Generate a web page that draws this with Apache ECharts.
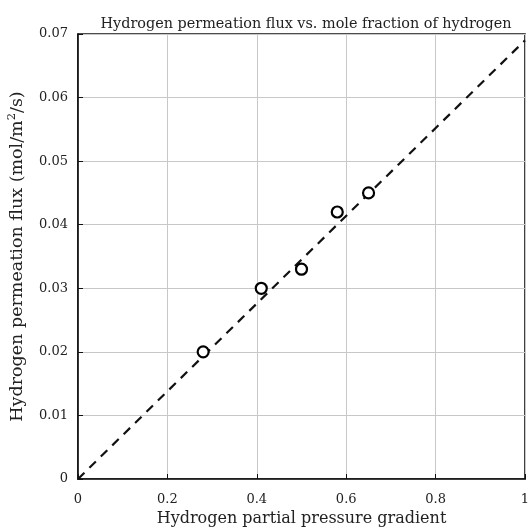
<!DOCTYPE html>
<html><head><meta charset="utf-8">
<script src="https://cdn.jsdelivr.net/npm/echarts@6/dist/echarts.min.js"></script>
<style>html,body{margin:0;padding:0;background:#fff}#c{width:528px;height:528px}</style>
</head><body><div id="c"></div>
<script>
const titleText = 'Hydrogen permeation flux vs. mole fraction of hydrogen';
const xName = 'Hydrogen partial pressure gradient';
const yName = 'Hydrogen permeation flux (mol/m{sup|2}/s)';
const pointX = [0.28, 0.41, 0.50, 0.58, 0.65];
const pointY = [0.020, 0.030, 0.033, 0.042, 0.045];
const fitX = [0, 1];
const fitY = [0, 0.069];
const xTicks = [0, 0.2, 0.4, 0.6, 0.8, 1];
const yTicks = [0, 0.01, 0.02, 0.03, 0.04, 0.05, 0.06, 0.07];

const font = 'DejaVu Serif';
const chart = echarts.init(document.getElementById('c'), null, {renderer: 'canvas'});
const fmtX = v => { const m = xTicks.find(t => Math.abs(t - v) < 1e-9); return m === undefined ? '' : String(m); };
const fmtY = v => { const m = yTicks.find(t => Math.abs(t - v) < 1e-9); return m === undefined ? '' : String(m); };
chart.setOption({
  animation: false,
  backgroundColor: '#fff',
  title: {
    text: titleText, left: 301, top: 12, textAlign: 'center',
    textStyle: {fontFamily: font, fontWeight: 'normal', fontSize: 14.4, color: '#222'}
  },
  grid: {left: 78, right: 3, top: 34, bottom: 49, show: true, borderColor: '#111', borderWidth: 1.6,
         backgroundColor: 'transparent', outerBoundsMode: 'none', containLabel: false},
  xAxis: {
    type: 'value', min: 0, max: 1, interval: 0.2,
    name: xName, nameLocation: 'middle', nameGap: 32,
    nameTextStyle: {fontFamily: font, fontSize: 16, color: '#222'},
    axisLine: {show: true, onZero: false, lineStyle: {color: '#111', width: 1.6}},
    axisTick: {show: true, inside: true, length: 5, lineStyle: {color: '#111'}},
    axisLabel: {formatter: fmtX, fontFamily: font, fontSize: 13, color: '#222', margin: 14},
    splitLine: {show: true, lineStyle: {color: '#c8c8c8', width: 1}}
  },
  yAxis: {
    type: 'value', min: 0, max: 0.07, interval: 0.01,
    name: yName, nameLocation: 'middle', nameGap: 50,
    nameTextStyle: {fontFamily: font, fontSize: 17.5, color: '#222', lineHeight: 22,
      rich: {sup: {fontFamily: font, fontSize: 11.5, color: '#222', verticalAlign: 'top', lineHeight: 14}}},
    axisLine: {show: true, onZero: false, lineStyle: {color: '#111', width: 1.6}},
    axisTick: {show: true, inside: true, length: 5, lineStyle: {color: '#111'}},
    axisLabel: {formatter: fmtY, fontFamily: font, fontSize: 13, color: '#222', margin: 10},
    splitLine: {show: true, lineStyle: {color: '#c8c8c8', width: 1}}
  },
  series: [
    {
      type: 'line', data: fitX.map((x, i) => [x, fitY[i]]), showSymbol: false, symbol: 'none',
      lineStyle: {color: '#111', width: 2.2, type: [9, 7]}, z: 2
    },
    {
      type: 'scatter', data: pointX.map((x, i) => [x, pointY[i]]),
      symbol: 'circle', symbolSize: 11,
      itemStyle: {color: '#fff', borderColor: '#000', borderWidth: 2.2, opacity: 1}, z: 3
    }
  ]
});
</script></body></html>
